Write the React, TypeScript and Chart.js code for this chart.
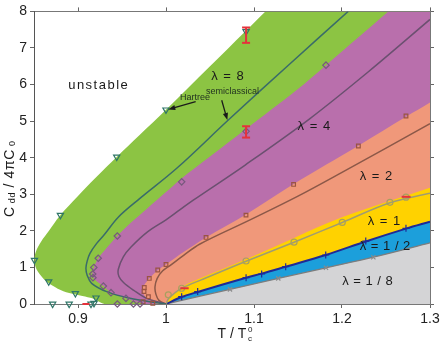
import React, { useEffect, useRef } from 'react';
import { Chart, registerables } from 'chart.js';

Chart.register(...registerables);

// ---------- axes ----------
const xTicks = [0.9, 1, 1.1, 1.2, 1.3];
const xTickLabels = ['0.9', '1', '1.1', '1.2', '1.3'];
const yTicks = [0, 1, 2, 3, 4, 5, 6, 7, 8];
const yTickLabels = ['0', '1', '2', '3', '4', '5', '6', '7', '8'];

// ---------- stability region boundaries [T/Tc0, Cdd/4piC0] (sorted by C) ----------
const region8: [number, number][] = [[0.93, 0], [0.925, 0.05], [0.917, 0.15], [0.905, 0.22], [0.89, 0.3], [0.877, 0.42], [0.865, 0.6], [0.857, 0.8], [0.852, 1.0], [0.8505, 1.2], [0.852, 1.42], [0.858, 1.7], [0.867, 2.0], [0.879, 2.4], [0.9, 2.95], [0.92, 3.45], [0.944, 4.02], [0.97, 4.62], [1.0, 5.31], [1.05, 6.5], [1.09, 7.45], [1.113, 8]];
const region4: [number, number][] = [[0.978, 0], [0.965, 0.06], [0.9545, 0.155], [0.945, 0.23], [0.9375, 0.31], [0.9288, 0.49], [0.921, 0.62], [0.917, 0.74], [0.9163, 0.85], [0.918, 1.0], [0.923, 1.25], [0.932, 1.52], [0.9447, 1.86], [0.96, 2.22], [0.978, 2.6], [1.0, 3.06], [1.016, 3.4], [1.05, 4.03], [1.09, 4.77], [1.1485, 5.85], [1.1818, 6.53], [1.22, 7.32], [1.2526, 8]];
const region2: [number, number][] = [[0.99, 0], [0.979, 0.12], [0.9745, 0.28], [0.9735, 0.42], [0.976, 0.55], [0.981, 0.7], [0.9906, 0.92], [1.0, 1.08], [1.02, 1.42], [1.0455, 1.82], [1.0909, 2.45], [1.145, 3.28], [1.2186, 4.33], [1.2727, 5.12], [1.3, 5.51], [1.34, 6.1]];
const region1: [number, number][] = [[1.0, 0], [1.006, 0.2], [1.014, 0.38], [1.022, 0.52], [1.035, 0.66], [1.0955, 1.27], [1.145, 1.8], [1.2, 2.37], [1.3, 3.18]];
const regionHalf: [number, number][] = [[1.0, 0], [1.0178, 0.19], [1.036, 0.33], [1.091, 0.72], [1.1087, 0.83], [1.136, 1.02], [1.1815, 1.34], [1.227, 1.71], [1.2727, 2.06], [1.3, 2.25]];
const regionEighth: [number, number][] = [[1.0, 0], [1.0727, 0.4], [1.1276, 0.7], [1.1818, 0.99], [1.2356, 1.28], [1.3, 1.67]];

// ---------- semiclassical curves ----------
const curve8: [number, number][] = [[1.0, 0], [0.9894, 0.036], [0.959, 0.155], [0.9326, 0.337], [0.9155, 0.565], [0.9105, 0.78], [0.909, 0.975], [0.9105, 1.18], [0.9136, 1.385], [0.921, 1.65], [0.93, 1.9], [0.946, 2.38], [0.97, 2.88], [1.0122, 3.71], [1.0708, 5.03], [1.14, 6.55], [1.207, 8]];
const curve4: [number, number][] = [[1.0, 0], [0.978, 0.155], [0.963, 0.38], [0.952, 0.58], [0.9465, 0.75], [0.9458, 0.95], [0.9515, 1.29], [0.96, 1.55], [0.979, 1.97], [1.0, 2.3], [1.016, 2.58], [1.031, 2.84], [1.09, 3.8], [1.1636, 5.07], [1.23, 6.35], [1.3, 7.78]];
const curve2: [number, number][] = [[1.0, 0], [0.992, 0.1], [0.9885, 0.27], [0.9875, 0.47], [0.99, 0.7], [0.996, 0.9], [1.0045, 1.05], [1.02, 1.33], [1.0386, 1.64], [1.0955, 2.3], [1.15, 2.95], [1.2, 3.6], [1.3, 4.93]];
const curve1: [number, number][] = [[1.0, 0], [1.003, 0.15], [1.01, 0.3], [1.0178, 0.43], [1.04, 0.66], [1.091, 1.17], [1.1455, 1.69], [1.2003, 2.23], [1.2545, 2.77], [1.3, 3.03]];
const curveHalf: [number, number][] = regionHalf;
const curveEighth: [number, number][] = regionEighth;

// ---------- Hartree data points ----------
const pts8: [number, number][] = [[0.8505, 1.2], [0.8667, 0.61], [0.897, 0.29], [0.9205, 0.17], [0.88, 2.43], [0.944, 4.02], [1.0, 5.31], [1.091, 7.45], [0.8712, 0], [0.89, 0], [0.9148, 0], [0.9182, 0.02]];
const pts4: [number, number][] = [[0.9447, 1.86], [0.923, 1.25], [0.918, 1.0], [0.9167, 0.82], [0.917, 0.72], [0.9288, 0.49], [0.9375, 0.31], [0.9545, 0.155], [0.9447, 0], [0.963, 0], [0.9705, 0], [1.0178, 3.34], [1.1818, 6.53], [1.091, 4.72]];
const pts2: [number, number][] = [[0.975, 0.34], [0.9753, 0.45], [0.981, 0.7], [0.9906, 0.93], [1.0, 1.08], [1.0455, 1.82], [1.0909, 2.43], [1.145, 3.27], [1.2186, 4.32], [1.2727, 5.14], [0.98, 0.2], [0.974, 0.06], [0.985, 0.02]];
const pts1: [number, number][] = [[1.0026, 0.25], [1.0178, 0.43], [1.091, 1.175], [1.1455, 1.69], [1.2003, 2.23], [1.2545, 2.78], [1.2727, 2.92]];
const ptsHalf: [number, number][] = [[1.0178, 0.2], [1.036, 0.34], [1.091, 0.72], [1.1087, 0.82], [1.136, 1.02], [1.1815, 1.34], [1.227, 1.72], [1.2727, 2.07]];
const ptsEighth: [number, number][] = [[1.0727, 0.4], [1.1276, 0.7], [1.1818, 0.99], [1.2356, 1.28]];

// ---------- error bars ----------
const errV1: [number, number][] = [[1.091, 7.14], [1.091, 7.56]];
const errV2: [number, number][] = [[1.091, 4.55], [1.091, 4.86]];
const errH1: [number, number][] = [[1.0163, 0.43], [1.0258, 0.43]];
const errH2: [number, number][] = [[1.2678, 2.93], [1.278, 2.93]];
const errH3: [number, number][] = [[0.905, 0.0], [0.913, 0.0]];

// ---------- annotations ----------
const textLabels = [
  { text: 'unstable', T: 0.9227, C: 5.98, size: 13, spacing: 1.5 },
  { text: 'λ = 8', T: 1.0699, C: 6.23, size: 13, spacing: 1 },
  { text: 'Hartree', T: 1.033, C: 5.64, size: 9, spacing: 0 },
  { text: 'semiclassical', T: 1.0756, C: 5.81, size: 9, spacing: 0 },
  { text: 'λ = 4', T: 1.168, C: 4.86, size: 13, spacing: 1 },
  { text: 'λ = 2', T: 1.2386, C: 3.5, size: 13, spacing: 1 },
  { text: 'λ = 1', T: 1.2477, C: 2.27, size: 13, spacing: 1 },
  { text: 'λ = 1 / 2', T: 1.2489, C: 1.58, size: 13, spacing: 0.5 },
  { text: 'λ = 1 / 8', T: 1.229, C: 0.63, size: 13, spacing: 0.5 },
];
const arrows = [
  { from: [1.0337, 5.53], to: [1.0026, 5.32] },
  { from: [1.0633, 5.57], to: [1.0697, 5.03] },
];

const FONT = '"Liberation Sans", Arial, Helvetica, sans-serif';

const toXY = (a: [number, number][]) => a.map(([x, y]) => ({ x, y }));

const region = (data: [number, number][], color: string, order: number) => ({
  data: toXY(data),
  borderColor: 'rgba(0,0,0,0)',
  borderWidth: 0,
  backgroundColor: color,
  pointRadius: 0,
  fill: { value: 1.45 },
  tension: 0.35,
  order,
});

const curve = (data: [number, number][], color: string, width: number) => ({
  data: toXY(data),
  borderColor: color,
  borderWidth: width,
  pointRadius: 0,
  fill: false,
  tension: 0.35,
  order: 20,
});

const markers = (data: [number, number][], color: string, style: string, radius: number, rotation = 0) => ({
  data: toXY(data),
  showLine: false,
  pointStyle: style,
  pointRadius: radius,
  pointRotation: rotation,
  pointBorderColor: color,
  pointBackgroundColor: 'rgba(0,0,0,0)',
  pointBorderWidth: 1.2,
  borderColor: color,
  backgroundColor: 'rgba(0,0,0,0)',
  fill: false,
  clip: false,
  order: 10,
});

const RED = '#e5323c';
const errBar = (data: [number, number][], caps: boolean) => ({
  data: toXY(data),
  borderColor: RED,
  borderWidth: 2,
  pointStyle: 'line',
  pointRadius: caps ? 4 : 0,
  pointBorderColor: RED,
  pointBorderWidth: 2,
  tension: 0,
  fill: false,
  clip: false,
  order: 5,
});

const overlayPlugin = {
  id: 'overlay',
  afterDatasetsDraw(chart: any) {
    const { ctx } = chart;
    const xs = chart.scales.x;
    const ys = chart.scales.y;
    ctx.save();
    ctx.fillStyle = '#1a1a1a';
    ctx.strokeStyle = '#1a1a1a';
    for (const a of arrows) {
      const x1 = xs.getPixelForValue(a.from[0]);
      const y1 = ys.getPixelForValue(a.from[1]);
      const x2 = xs.getPixelForValue(a.to[0]);
      const y2 = ys.getPixelForValue(a.to[1]);
      const ang = Math.atan2(y2 - y1, x2 - x1);
      const hl = 7;
      const hw = 2.6;
      ctx.lineWidth = 1.3;
      ctx.beginPath();
      ctx.moveTo(x1, y1);
      ctx.lineTo(x2 - Math.cos(ang) * hl * 0.8, y2 - Math.sin(ang) * hl * 0.8);
      ctx.stroke();
      ctx.beginPath();
      ctx.moveTo(x2, y2);
      ctx.lineTo(x2 - Math.cos(ang) * hl - Math.sin(ang) * hw, y2 - Math.sin(ang) * hl + Math.cos(ang) * hw);
      ctx.lineTo(x2 - Math.cos(ang) * hl + Math.sin(ang) * hw, y2 - Math.sin(ang) * hl - Math.cos(ang) * hw);
      ctx.closePath();
      ctx.fill();
    }
    ctx.textAlign = 'center';
    ctx.textBaseline = 'middle';
    for (const l of textLabels) {
      ctx.font = `${l.size}px ${FONT}`;
      (ctx as any).letterSpacing = `${l.spacing}px`;
      ctx.fillStyle = l.size < 10 ? '#1f2f1f' : '#1a1a1a';
      ctx.fillText(l.text, xs.getPixelForValue(l.T) + l.spacing / 2, ys.getPixelForValue(l.C));
    }
    (ctx as any).letterSpacing = '0px';
    ctx.restore();
  },
  afterDraw(chart: any) {
    const { ctx, chartArea } = chart;
    ctx.save();
    ctx.fillStyle = '#1a1a1a';
    ctx.textBaseline = 'alphabetic';
    ctx.textAlign = 'left';
    // y title: C_dd / 4πC_0, rotated
    const yParts = [
      { t: 'C', s: 14, d: 0 },
      { t: ' dd', s: 9, d: 1.5 },
      { t: ' / 4π', s: 14, d: 0 },
      { t: 'C', s: 14, d: 0 },
      { t: ' 0', s: 9, d: 1.5 },
    ];
    (ctx as any).letterSpacing = '0.6px';
    let total = 0;
    for (const p of yParts) {
      ctx.font = `${p.s}px ${FONT}`;
      total += ctx.measureText(p.t).width;
    }
    const cy = (chartArea.top + chartArea.bottom) / 2 + 21;
    ctx.translate(13.5, cy);
    ctx.rotate(-Math.PI / 2);
    let px = -total / 2;
    for (const p of yParts) {
      ctx.font = `${p.s}px ${FONT}`;
      ctx.fillText(p.t, px, p.d);
      px += ctx.measureText(p.t).width;
    }
    ctx.setTransform(1, 0, 0, 1, 0, 0);
    // x title: T / T_c^0
    (ctx as any).letterSpacing = '0px';
    ctx.font = `14px ${FONT}`;
    const main = 'T / T';
    const cx = (chartArea.left + chartArea.right) / 2 + 3;
    const mw = ctx.measureText(main).width;
    const x0 = cx - (mw + 6) / 2;
    const base = chartArea.bottom + 34;
    ctx.fillText(main, x0, base);
    ctx.font = `8px ${FONT}`;
    ctx.fillText('0', x0 + mw + 1.5, base - 6);
    ctx.fillText('c', x0 + mw + 1.5, base + 3);
    ctx.restore();
  },
};

const tickFont = { size: 14, family: FONT };
const gridCfg = { drawOnChartArea: false, drawTicks: true, tickLength: 4, color: '#666', tickColor: '#666' };
const borderCfg = { color: '#777', width: 1 };

export default function App() {
  const ref = useRef<HTMLCanvasElement | null>(null);
  useEffect(() => {
    if (!ref.current) return;
    const xLabel = (v: number) => {
      const i = xTicks.findIndex((t) => Math.abs(t - v) < 1e-9);
      return i >= 0 ? xTickLabels[i] : '';
    };
    const yLabel = (v: number) => {
      const i = yTicks.findIndex((t) => Math.abs(t - v) < 1e-9);
      return i >= 0 ? yTickLabels[i] : '';
    };
    const chart = new Chart(ref.current, {
      type: 'line',
      data: {
        datasets: [
          region(region8, '#8cc443', 100),
          region(region4, '#b96fac', 99),
          region(region2, '#f0987a', 98),
          region(region1, '#ffd200', 97),
          region(regionHalf, '#1c9fdb', 96),
          region(regionEighth, '#d4d4d6', 95),
          curve(curve8, '#3a6c69', 1.5),
          curve(curve4, '#6b5070', 1.5),
          curve(curve2, '#8c5848', 1.5),
          curve(curve1, '#a09c72', 1.5),
          curve(curveHalf, '#1f2a96', 2),
          curve(curveEighth, '#7d7d7d', 1.3),
          markers(pts8, '#2f7668', 'triangle', 3.6, 180),
          markers(pts4, '#77597d', 'rectRot', 3.2),
          markers(pts2, '#9a5442', 'rect', 2.6),
          markers(pts1, '#a8a05e', 'circle', 3),
          markers(ptsHalf, '#1f2a96', 'cross', 3.5),
          markers(ptsEighth, '#8a8a8a', 'crossRot', 3),
          errBar(errV1, true),
          errBar(errV2, true),
          errBar(errH1, false),
          errBar(errH2, false),
          errBar(errH3, false),
        ] as any,
      },
      options: {
        indexAxis: 'y',
        responsive: false,
        animation: false,
        devicePixelRatio: 1,
        layout: { padding: 0 },
        plugins: { legend: { display: false }, tooltip: { enabled: false } },
        elements: { point: { hitRadius: 0 } },
        scales: {
          x: {
            type: 'linear', position: 'bottom', min: 0.85, max: 1.3, z: 1,
            afterBuildTicks: (a: any) => { a.ticks = xTicks.map((v) => ({ value: v })); },
            afterFit: (s: any) => { s.height = 40; },
            ticks: { callback: (v: any) => xLabel(Number(v)), font: tickFont, color: '#222', padding: 3, maxRotation: 0, autoSkip: false },
            grid: gridCfg, border: borderCfg,
          },
          x2: {
            type: 'linear', position: 'top', min: 0.85, max: 1.3, z: 1,
            afterBuildTicks: (a: any) => { a.ticks = xTicks.map((v) => ({ value: v })); },
            afterFit: (s: any) => { s.height = 11; },
            ticks: { display: false },
            grid: gridCfg, border: borderCfg,
          },
          y: {
            type: 'linear', position: 'left', min: 0, max: 8, z: 1,
            afterBuildTicks: (a: any) => { a.ticks = yTicks.map((v) => ({ value: v })); },
            afterFit: (s: any) => { s.width = 34; },
            ticks: { callback: (v: any) => yLabel(Number(v)), font: tickFont, color: '#222', padding: 3, autoSkip: false },
            grid: gridCfg, border: { color: '#555', width: 1 },
          },
          y2: {
            type: 'linear', position: 'right', min: 0, max: 8, z: 1,
            afterBuildTicks: (a: any) => { a.ticks = yTicks.map((v) => ({ value: v })); },
            afterFit: (s: any) => { s.width = 13; },
            ticks: { display: false },
            grid: gridCfg, border: borderCfg,
          },
        },
      } as any,
      plugins: [overlayPlugin],
    });
    return () => chart.destroy();
  }, []);
  return (
    <div style={{ position: 'fixed', left: 0, top: 0, width: 443, height: 344, background: '#fff' }}>
      <canvas ref={ref} width={443} height={344} style={{ width: 443, height: 344, display: 'block' }} />
    </div>
  );
}
